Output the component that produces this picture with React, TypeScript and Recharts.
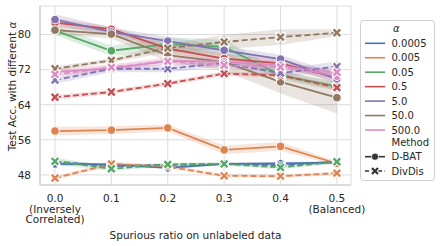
import React from 'react';
import { ComposedChart, Line, Area, XAxis, YAxis, CartesianGrid } from 'recharts';

const ratios = [0.0, 0.1, 0.2, 0.3, 0.4, 0.5];
const alphaLabels = ['0.0005', '0.005', '0.05', '0.5', '5.0', '50.0', '500.0'];
const colors = ['#4c72b0', '#dd8452', '#55a868', '#c44e52', '#8172b3', '#937860', '#da8bc3'];
const yTicks = [48, 56, 64, 72, 80];

// D-BAT (solid, circle markers), one array per alpha
const dbat0005 = [50.5, 50.4, 49.6, 50.5, 50.6, 50.8];
const dbat005 = [58.0, 58.2, 58.7, 53.7, 54.5, 50.6];
const dbat05 = [80.9, 76.3, 77.8, 77.2, 70.7, 68.2];
const dbat5 = [82.7, 81.2, 76.8, 74.5, 73.4, 70.2];
const dbat50 = [83.4, 80.6, 78.5, 76.4, 74.4, 69.9];
const dbat500 = [81.0, 80.1, 75.3, 73.7, 69.2, 65.6];
const dbat5000 = [71.5, 72.3, 74.0, 73.8, 73.0, 70.5];

// DivDis (dashed, x markers)
const div0005 = [51.0, 50.0, 50.3, 50.5, 50.2, 51.0];
const div005 = [47.3, 50.5, 49.9, 47.8, 47.7, 48.4];
const div05 = [51.1, 49.4, 50.4, 50.5, 49.7, 51.0];
const div5 = [65.7, 66.9, 68.8, 71.1, 70.7, 67.9];
const div50 = [69.6, 72.2, 72.2, 73.5, 71.2, 72.7];
const div500 = [72.2, 74.1, 76.9, 78.3, 79.4, 80.4];
const div5000 = [70.9, 72.5, 73.9, 73.0, 72.6, 71.4];

// half-widths of confidence bands
const dbatBand0005 = [0.4, 0.3, 0.3, 0.3, 0.4, 0.3];
const dbatBand005 = [1.0, 0.9, 0.8, 1.0, 1.0, 0.5];
const dbatBand05 = [1.0, 1.2, 1.6, 1.6, 1.0, 1.0];
const dbatBand5 = [1.0, 0.6, 1.0, 1.0, 1.0, 1.0];
const dbatBand50 = [1.2, 1.0, 1.0, 1.0, 1.0, 1.2];
const dbatBand500 = [1.0, 1.0, 1.5, 2.0, 2.6, 3.6];
const dbatBand5000 = [0.8, 0.8, 0.8, 0.8, 0.8, 0.8];
const divBand0005 = [0.4, 0.3, 0.3, 0.3, 0.3, 0.3];
const divBand005 = [0.4, 0.5, 0.4, 0.4, 0.4, 0.4];
const divBand05 = [0.8, 0.5, 0.4, 0.4, 0.4, 0.4];
const divBand5 = [0.5, 0.5, 0.5, 0.5, 0.5, 0.6];
const divBand50 = [0.8, 0.8, 0.8, 0.8, 0.8, 1.2];
const divBand500 = [0.5, 0.5, 1.0, 1.6, 1.8, 0.8];
const divBand5000 = [0.6, 0.7, 0.7, 0.7, 0.7, 0.7];

const dbatSeries = [dbat0005, dbat005, dbat05, dbat5, dbat50, dbat500, dbat5000];
const divSeries = [div0005, div005, div05, div5, div50, div500, div5000];
const dbatBands = [dbatBand0005, dbatBand005, dbatBand05, dbatBand5, dbatBand50, dbatBand500, dbatBand5000];
const divBands = [divBand0005, divBand005, divBand05, divBand5, divBand50, divBand500, divBand5000];

const data = ratios.map((r, i) => {
  const row: any = { x: r };
  for (let k = 0; k < 7; k++) {
    row['d' + k] = dbatSeries[k][i];
    row['v' + k] = divSeries[k][i];
    row['db' + k] = [dbatSeries[k][i] - dbatBands[k][i], dbatSeries[k][i] + dbatBands[k][i]];
    row['vb' + k] = [divSeries[k][i] - divBands[k][i], divSeries[k][i] + divBands[k][i]];
  }
  return row;
});

const FONT = 'DejaVu Sans, sans-serif';
const TXT = '#262626';

const circleDot = (color: string) => (p: any) => {
  if (p.cx == null || p.cy == null) return <g key={p.key} />;
  return <circle key={p.key} cx={p.cx} cy={p.cy} r={4.3} fill={color} stroke="#fff" strokeWidth={1} />;
};

const crossDot = (color: string) => (p: any) => {
  if (p.cx == null || p.cy == null) return <g key={p.key} />;
  const s = 3.3;
  const d = `M${p.cx - s},${p.cy - s}L${p.cx + s},${p.cy + s}M${p.cx - s},${p.cy + s}L${p.cx + s},${p.cy - s}`;
  return (
    <g key={p.key}>
      <path d={d} stroke="#fff" strokeWidth={4.2} strokeLinecap="round" />
      <path d={d} stroke={color} strokeWidth={2.4} strokeLinecap="butt" />
    </g>
  );
};

const tickLines: Record<string, string[]> = {
  '0': ['0.0', '(Inversely', 'Correlated)'],
  '0.5': ['0.5', '(Balanced)'],
};

const XTick = (p: any) => {
  const v = p.payload.value;
  const lines = tickLines[String(v)] || [Number(v).toFixed(1)];
  return (
    <g>
      {lines.map((l, i) => (
        <text key={i} x={p.x} y={p.y + 9 + i * 10.6} textAnchor="middle" fontSize={10.5} fill={TXT} fontFamily={FONT}>
          {l}
        </text>
      ))}
    </g>
  );
};

const YTick = (p: any) => (
  <text x={p.x - 1} y={p.y + 3.8} textAnchor="end" fontSize={10.5} fill={TXT} fontFamily={FONT}>
    {p.payload.value}
  </text>
);

const order = [0, 1, 2, 3, 4, 5, 6];

export default function App() {
  return (
    <div style={{ position: 'absolute', left: 0, top: 0, width: 440, height: 246, background: '#fff' }}>
      <ComposedChart width={440} height={246} data={data} margin={{ top: 6, right: 89, bottom: 0, left: 0 }}>
        <CartesianGrid stroke="#dcdcdc" strokeWidth={1} />
        <XAxis
          dataKey="x"
          type="number"
          domain={[-0.0266, 0.525]}
          ticks={ratios}
          tick={<XTick />}
          tickLine={false}
          axisLine={{ stroke: '#cccccc', strokeWidth: 1.2 }}
          height={61}
          allowDataOverflow
          label={{ value: 'Spurious ratio on unlabeled data', position: 'insideBottom', offset: 7, fontSize: 10.5, fill: TXT, fontFamily: FONT }}
        />
        <YAxis
          type="number"
          domain={[45.7, 86.5]}
          ticks={yTicks}
          tick={<YTick />}
          tickLine={false}
          axisLine={{ stroke: '#cccccc', strokeWidth: 1.2 }}
          width={40}
          allowDataOverflow
        />
        {order.map((k) => (
          <Area key={'db' + k} dataKey={'db' + k} stroke="none" fill={colors[k]} fillOpacity={0.2} isAnimationActive={false} activeDot={false} />
        ))}
        {order.map((k) => (
          <Area key={'vb' + k} dataKey={'vb' + k} stroke="none" fill={colors[k]} fillOpacity={0.2} isAnimationActive={false} activeDot={false} />
        ))}
        {order.map((k) => (
          <Line key={'d' + k} dataKey={'d' + k} stroke={colors[k]} strokeWidth={1.8} dot={circleDot(colors[k])} activeDot={false} isAnimationActive={false} />
        ))}
        {order.map((k) => (
          <Line key={'v' + k} dataKey={'v' + k} stroke={colors[k]} strokeWidth={1.8} strokeDasharray="6 3" dot={crossDot(colors[k])} activeDot={false} isAnimationActive={false} />
        ))}
      </ComposedChart>
      <svg width={440} height={246} style={{ position: 'absolute', left: 0, top: 0, pointerEvents: 'none' }}>
        <text transform="translate(15.5,86.5) rotate(-90)" textAnchor="middle" fontSize={10.5} fill={TXT} fontFamily={FONT}>
          Test Acc. with different <tspan fontStyle="italic">α</tspan>
        </text>
        <rect x={360.5} y={20.5} width={74} height={160} rx={3} fill="#fff" stroke="#d0d0d0" strokeWidth={1} />
        <text x={393} y={31.5} fontSize={10} fontStyle="italic" fill={TXT} fontFamily={FONT}>α</text>
        {alphaLabels.map((lab, i) => {
          const y = 43.3 + i * 14.45;
          return (
            <g key={lab}>
              <line x1={365} x2={385} y1={y} y2={y} stroke={colors[i]} strokeWidth={1.6} />
              <text x={391.5} y={y + 3.6} fontSize={10} fill={TXT} fontFamily={FONT}>{lab}</text>
            </g>
          );
        })}
        <text x={391.5} y={146.3} fontSize={10} fill={TXT} fontFamily={FONT}>Method</text>
        <line x1={365} x2={385} y1={156.7} y2={156.7} stroke="#333" strokeWidth={1.6} />
        <circle cx={375} cy={156.7} r={3.6} fill="#333" stroke="#fff" strokeWidth={0.8} />
        <text x={391.5} y={160.3} fontSize={10} fill={TXT} fontFamily={FONT}>D-BAT</text>
        <line x1={365} x2={385} y1={171} y2={171} stroke="#333" strokeWidth={1.6} strokeDasharray="4 2.5" />
        <path d="M372,168L378,174M372,174L378,168" stroke="#fff" strokeWidth={4} />
        <path d="M372,168L378,174M372,174L378,168" stroke="#333" strokeWidth={2.2} />
        <text x={391.5} y={174.6} fontSize={10} fill={TXT} fontFamily={FONT}>DivDis</text>
      </svg>
    </div>
  );
}
